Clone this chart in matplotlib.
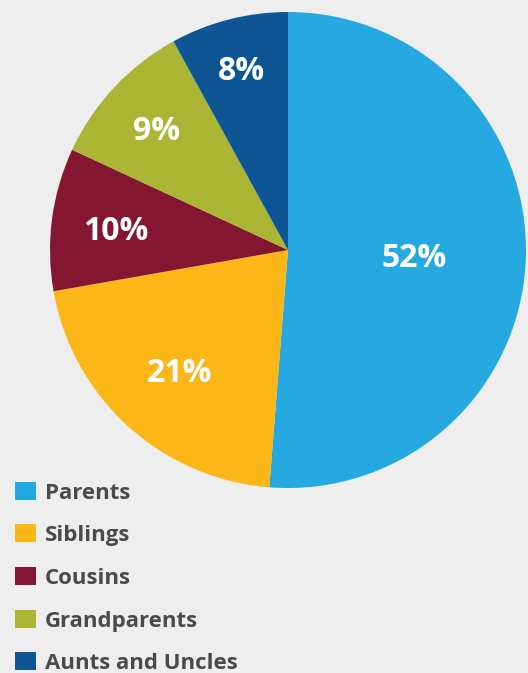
import matplotlib.pyplot as plt
import numpy as np
from matplotlib.patches import Rectangle

# data (wedge sizes as drawn, labels as printed)
categories = ['Parents', 'Siblings', 'Cousins', 'Grandparents', 'Aunts and Uncles']
shares = [51.3, 21.0, 9.7, 10.1, 8.0]
pct_labels = ['52%', '21%', '10%', '9%', '8%']
colors = ['#25a9e0', '#fbb717', '#841631', '#a9b533', '#0d5693']

# radial position of each % label (fraction of radius)
label_dist = [0.53, 0.68, 0.73, 0.755, 0.79]

bg = '#eeeeee'
W, H = 528, 673
fig = plt.figure(figsize=(W / 100, H / 100), dpi=100, facecolor=bg)

# pie centre (288, 250) px, radius 238 px
cx, cy, r = 288, 250, 238
ax = fig.add_axes([(cx - r) / W, 1 - (cy + r) / H, 2 * r / W, 2 * r / H])
ax.set_facecolor(bg)
wedges, _ = ax.pie(shares, colors=colors, startangle=90, counterclock=False,
                   wedgeprops=dict(linewidth=0))
ax.set_aspect('equal')
ax.set_xlim(-1, 1)
ax.set_ylim(-1, 1)

for w, lab, d in zip(wedges, pct_labels, label_dist):
    mid = np.deg2rad((w.theta1 + w.theta2) / 2)
    ax.text(d * np.cos(mid), d * np.sin(mid), lab, ha='center', va='center_baseline',
            color='white', fontsize=23, fontweight='bold', family='Open Sans')

# legend drawn by hand
row_y = [491, 533, 576, 619, 661]
for name, col, y in zip(categories, colors, row_y):
    fig.patches.append(Rectangle((15 / W, 1 - (y + 9) / H), 21 / W, 18 / H,
                                 transform=fig.transFigure, facecolor=col,
                                 edgecolor='none'))
    fig.text(45 / W, 1 - y / H, name, ha='left', va='center_baseline', color='#4a4a4a',
             fontsize=16, fontweight='bold', family='Open Sans')

fig.savefig('out.png', dpi=100, facecolor=bg)
